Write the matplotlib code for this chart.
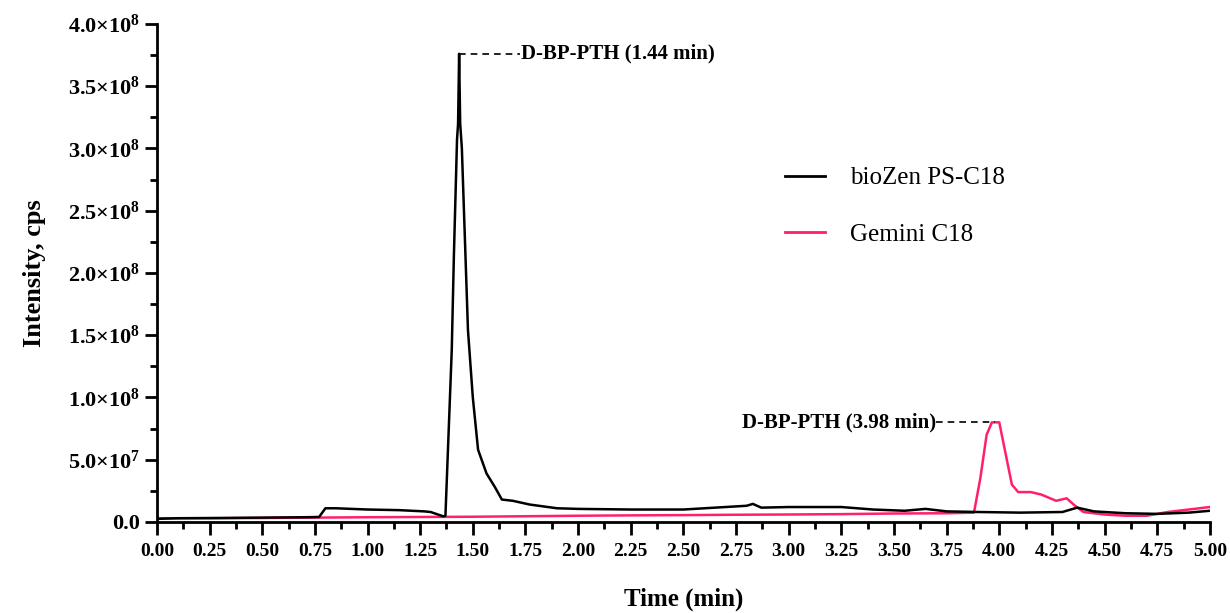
import matplotlib
matplotlib.use("Agg")
import matplotlib.pyplot as plt
from matplotlib.ticker import FixedLocator, MultipleLocator, FuncFormatter

plt.rcParams["font.family"] = ["Liberation Serif", "DejaVu Serif"]
plt.rcParams["mathtext.fontset"] = "custom"
plt.rcParams["mathtext.rm"] = "Liberation Serif:bold"
plt.rcParams["mathtext.bf"] = "Liberation Serif:bold"
plt.rcParams["mathtext.it"] = "Liberation Serif:bold"

# bioZen PS-C18 (black) trace
biozen_t = [0.00, 0.10, 0.30, 0.50, 0.70, 0.77, 0.80, 0.85, 1.00, 1.15, 1.27, 1.30,
            1.36, 1.37, 1.40, 1.41, 1.425, 1.430, 1.435, 1.440, 1.448, 1.477, 1.500,
            1.525, 1.565, 1.605, 1.638, 1.690, 1.770, 1.900, 2.00, 2.25, 2.50, 2.70,
            2.80, 2.83, 2.87, 3.00, 3.25, 3.40, 3.55, 3.65, 3.75, 3.90, 4.10, 4.30,
            4.37, 4.45, 4.60, 4.75, 4.90, 5.00]
biozen_i = [2.5e6, 3.0e6, 3.2e6, 3.5e6, 3.8e6, 4.0e6, 1.1e7, 1.1e7, 1.0e7, 9.5e6, 8.5e6, 8.0e6,
            4.5e6, 5.0e6, 1.38e8, 2.13e8, 3.07e8, 3.2e8, 3.76e8, 3.2e8, 3.0e8, 1.54e8, 1.0e8,
            5.8e7, 3.9e7, 2.8e7, 1.8e7, 1.7e7, 1.4e7, 1.1e7, 1.05e7, 1.0e7, 1.0e7, 1.2e7,
            1.3e7, 1.45e7, 1.15e7, 1.2e7, 1.2e7, 1.0e7, 9.0e6, 1.05e7, 8.5e6, 8.0e6, 7.5e6, 8.0e6,
            1.15e7, 8.5e6, 7.0e6, 6.5e6, 7.5e6, 9.0e6]

# Gemini C18 (pink) trace
gemini_t = [0.00, 0.25, 0.50, 0.75, 1.00, 1.25, 1.50, 1.75, 2.00, 2.25, 2.50, 2.75,
            3.00, 3.25, 3.50, 3.75, 3.88, 3.91, 3.94, 3.965, 4.00, 4.03, 4.06, 4.09,
            4.15, 4.20, 4.27, 4.32, 4.36, 4.40, 4.50, 4.60, 4.70, 4.80, 4.90, 5.00]
gemini_i = [3.0e6, 3.0e6, 3.2e6, 3.5e6, 3.8e6, 4.0e6, 4.2e6, 4.6e6, 5.0e6, 5.3e6, 5.5e6, 5.8e6,
            6.0e6, 6.3e6, 6.8e6, 7.0e6, 7.5e6, 3.5e7, 7.0e7, 8.0e7, 8.0e7, 5.5e7, 3.0e7, 2.4e7,
            2.4e7, 2.2e7, 1.7e7, 1.9e7, 1.3e7, 8.0e6, 6.0e6, 5.0e6, 5.0e6, 8.0e6, 1.0e7, 1.2e7]

labels = ["bioZen PS-C18", "Gemini C18"]
colors = ["black", "#ff1f6a"]

peak1_t, peak1_i, peak1_txt = 1.435, 3.76e8, "D-BP-PTH (1.44 min)"
peak2_t, peak2_i, peak2_txt = 3.98, 8.0e7, "D-BP-PTH (3.98 min)"

xticks = [i * 0.25 for i in range(21)]
yticks = [i * 5e7 for i in range(9)]


def yfmt(v, pos):
    if v == 0:
        return "0.0"
    e = 0
    m = v
    while m >= 10:
        m /= 10
        e += 1
    return r"$\mathbf{%.1f{\times}10^{%d}}$" % (m, e)


fig = plt.figure(figsize=(12.3, 6.13), dpi=100)
ax = fig.add_axes([0.1276, 0.1485, 0.856, 0.8125])

ax.plot(gemini_t, gemini_i, color=colors[1], lw=1.8, label=labels[1], zorder=2)
ax.plot(biozen_t, biozen_i, color=colors[0], lw=1.8, label=labels[0], zorder=3)

ax.set_xlim(0, 5.0)
ax.set_ylim(0, 4.0e8)
ax.xaxis.set_major_locator(FixedLocator(xticks))
ax.xaxis.set_minor_locator(MultipleLocator(0.125))
ax.yaxis.set_major_locator(FixedLocator(yticks))
ax.yaxis.set_minor_locator(MultipleLocator(2.5e7))
ax.yaxis.set_major_formatter(FuncFormatter(yfmt))
ax.set_xticklabels([f"{x:.2f}" for x in xticks])

for s in ["top", "right"]:
    ax.spines[s].set_visible(False)
for s in ["left", "bottom"]:
    ax.spines[s].set_linewidth(2)

ax.tick_params(which="major", direction="out", length=9, width=2)
ax.tick_params(which="minor", direction="out", length=5, width=2)
ax.tick_params(axis="x", labelsize=14, pad=6)
ax.tick_params(axis="y", labelsize=16, pad=3)
for lab in ax.get_xticklabels() + ax.get_yticklabels():
    lab.set_fontweight("bold")

ax.set_xlabel("Time (min)", fontsize=18, fontweight="bold", labelpad=20)
ax.set_ylabel("Intensity, cps", fontsize=19, fontweight="bold", labelpad=16)

# peak annotations
ax.plot([peak1_t, 1.725], [peak1_i, peak1_i], color="black", lw=1.2, ls=(0, (4, 3)))
ax.text(1.73, peak1_i, peak1_txt, fontsize=15, fontweight="bold", va="center", ha="left")
ax.plot([3.70, peak2_t], [peak2_i, peak2_i], color="black", lw=1.2, ls=(0, (4, 3)))
ax.text(3.70, peak2_i, peak2_txt, fontsize=15, fontweight="bold", va="center", ha="right")

handles, labs = ax.get_legend_handles_labels()
leg = ax.legend(handles[::-1], labs[::-1], loc="upper left", bbox_to_anchor=(0.575, 0.758),
                frameon=False, fontsize=18, handlelength=1.6, handletextpad=1.0,
                labelspacing=1.35)
for ln in leg.get_lines():
    ln.set_linewidth(2)

fig.savefig("out.png", dpi=100)
